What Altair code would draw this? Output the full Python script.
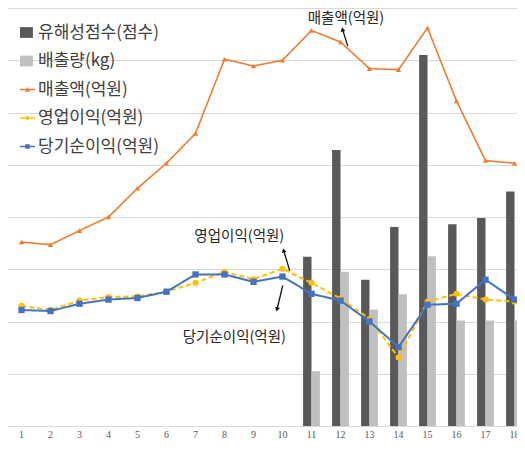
import altair as alt
import pandas as pd

# ---------------- data ----------------
categories = list(range(1, 19))
sales = [352, 347, 374, 400, 455, 503, 560, 702, 689, 700, 757, 735, 684, 682, 762, 622, 508, 503]
op_profit = [230, 222, 240, 247, 248, 257, 274, 295, 281, 301, 274, 244, 205, 131, 238, 253, 242, 238]
net_profit = [222, 220, 234, 242, 245, 257, 290, 290, 276, 286, 253, 240, 200, 151, 232, 234, 280, 242]
bar_categories = list(range(11, 19))
harm_score = [324, 528, 280, 381, 710, 386, 398, 449]
emission = [105, 295, 223, 252, 325, 202, 202, 202]

series_names = ["유해성점수(점수)", "배출량(kg)", "매출액(억원)", "영업이익(억원)", "당기순이익(억원)"]
series_colors = ["#595959", "#c0c0c0", "#ed7d31", "#ffc000", "#4472c4"]

# annotation labels (data coordinates)
ann_text = ["매출액(억원)", "영업이익(억원)", "당기순이익(억원)"]
ann_x = [12.19, 8.51, 8.34]
ann_y = [779, 362, 168]
arrow_x = [12.25, 10.25, 10.01]
arrow_y = [727, 297, 269]
arrow_x2 = [12.07, 10.04, 9.81]
arrow_y2 = [759, 336, 223]
arrow_angle = [346, 345, 194]

# ---------------- tables ----------------
bar_df = pd.DataFrame(
    {"category": bar_categories * 2,
     "series": [series_names[0]] * len(bar_categories) + [series_names[1]] * len(bar_categories),
     "value": harm_score + emission}
)
line_df = pd.DataFrame(
    {"category": categories * 3,
     "series": [series_names[2]] * 18 + [series_names[3]] * 18 + [series_names[4]] * 18,
     "value": sales + op_profit + net_profit}
)
legend_df = pd.DataFrame({"series": series_names})
ann_df = pd.DataFrame({"text": ann_text, "x": ann_x, "y": ann_y})
arrow_df = pd.DataFrame({"x": arrow_x, "y": arrow_y, "x2": arrow_x2, "y2": arrow_y2, "angle": arrow_angle})

FONT = "Noto Sans CJK KR"
W, H = 509, 418
XR = [-1, 521]

x_band = alt.X(
    "category:O",
    scale=alt.Scale(domain=categories, paddingInner=0.42, paddingOuter=0.21, range=XR),
    axis=alt.Axis(title=None, labelAngle=0, ticks=False, domain=False,
                  labelFont="Liberation Serif", labelFontSize=10, labelColor="#595959",
                  labelPadding=3, grid=False),
)
y_scale = alt.Scale(domain=[0, 800], nice=False, zero=True)
y_axis = alt.Axis(values=list(range(0, 801, 100)), labels=False, ticks=False, domain=False,
                  grid=True, gridColor="#d9d9d9", gridWidth=1, title=None)
color_scale = alt.Scale(domain=series_names, range=series_colors)

legend_paths = [
    "M-1,-0.72H0.72V0.72H-1Z",
    "M-1,-0.72H0.72V0.72H-1Z",
    "M-1,-0.09H1V0.09H-1Z M-0.36,0.3L0,-0.32L0.36,0.3Z",
    "M-1,-0.09H1V0.09H-1Z M0,-0.34L0.34,0L0,0.34L-0.34,0Z",
    "M-1,-0.09H1V0.09H-1Z M-0.3,-0.3H0.3V0.3H-0.3Z",
]
legend_spec = alt.Legend(orient="none", legendX=11, legendY=16, title=None,
                         labelFont=FONT, labelFontSize=17, labelColor="#404040",
                         symbolSize=225, symbolStrokeWidth=0, rowPadding=10.5,
                         labelOffset=2, padding=0, symbolOpacity=1)

bars = alt.Chart(bar_df).mark_bar().encode(
    x=x_band,
    xOffset=alt.XOffset("series:N", scale=alt.Scale(domain=series_names[:2], paddingInner=0, paddingOuter=0)),
    y=alt.Y("value:Q", scale=y_scale, axis=y_axis),
    color=alt.Color("series:N", scale=color_scale, title=None, legend=legend_spec),
)

line_styles = [
    (series_names[2], series_colors[2], 1.6, [1, 0], "triangle-up", 28),
    (series_names[3], series_colors[3], 2.0, [5, 3], "circle", 36),
    (series_names[4], series_colors[4], 2.0, [1, 0], "square", 40),
]
line_layers = []
for name, col, sw, dash, shp, sz in line_styles:
    base = alt.Chart(line_df).transform_filter(alt.datum.series == name)
    line_layers.append(base.mark_line(color=col, strokeWidth=sw, strokeDash=dash).encode(
        x=x_band, y=alt.Y("value:Q", scale=y_scale, axis=y_axis)))
    line_layers.append(base.mark_point(color=col, filled=True, opacity=1, shape=shp, size=sz).encode(
        x=x_band, y=alt.Y("value:Q", scale=y_scale, axis=y_axis)))

legend_layer = alt.Chart(legend_df).mark_point(filled=True, size=0).encode(
    color=alt.Color("series:N", scale=color_scale, title=None, legend=legend_spec),
    shape=alt.Shape("series:N", scale=alt.Scale(domain=series_names, range=legend_paths), title=None,
                    legend=legend_spec),
)

main = alt.layer(bars, *line_layers, legend_layer)

xq = alt.Scale(domain=[0.5, 18.5], nice=False, zero=False, range=XR)
texts = alt.Chart(ann_df).mark_text(font=FONT, fontSize=14.5, color="#262626", align="center", baseline="middle").encode(
    x=alt.X("x:Q", scale=xq, axis=None),
    y=alt.Y("y:Q", scale=y_scale, axis=y_axis),
    text="text:N",
)
rules = alt.Chart(arrow_df).mark_rule(color="#111111", strokeWidth=1.3).encode(
    x=alt.X("x:Q", scale=xq, axis=None),
    x2="x2:Q",
    y=alt.Y("y:Q", scale=y_scale, axis=y_axis),
    y2="y2:Q",
)
heads = alt.Chart(arrow_df).mark_point(filled=True, color="#111111", opacity=1, shape="triangle-up", size=24).encode(
    x=alt.X("x2:Q", scale=xq, axis=None),
    y=alt.Y("y2:Q", scale=y_scale, axis=y_axis),
    angle=alt.Angle("angle:Q", scale=None),
)
ann = alt.layer(rules, heads, texts)

chart = alt.layer(main, ann).resolve_scale(x="independent").properties(
    width=W, height=H, background="white",
    autosize=alt.AutoSizeParams(type="none"),
    padding={"left": 0, "top": 0, "right": 0, "bottom": 14},
).configure_view(stroke=None)

chart.save("out.html", embed_options={"renderer": "svg", "actions": False})
